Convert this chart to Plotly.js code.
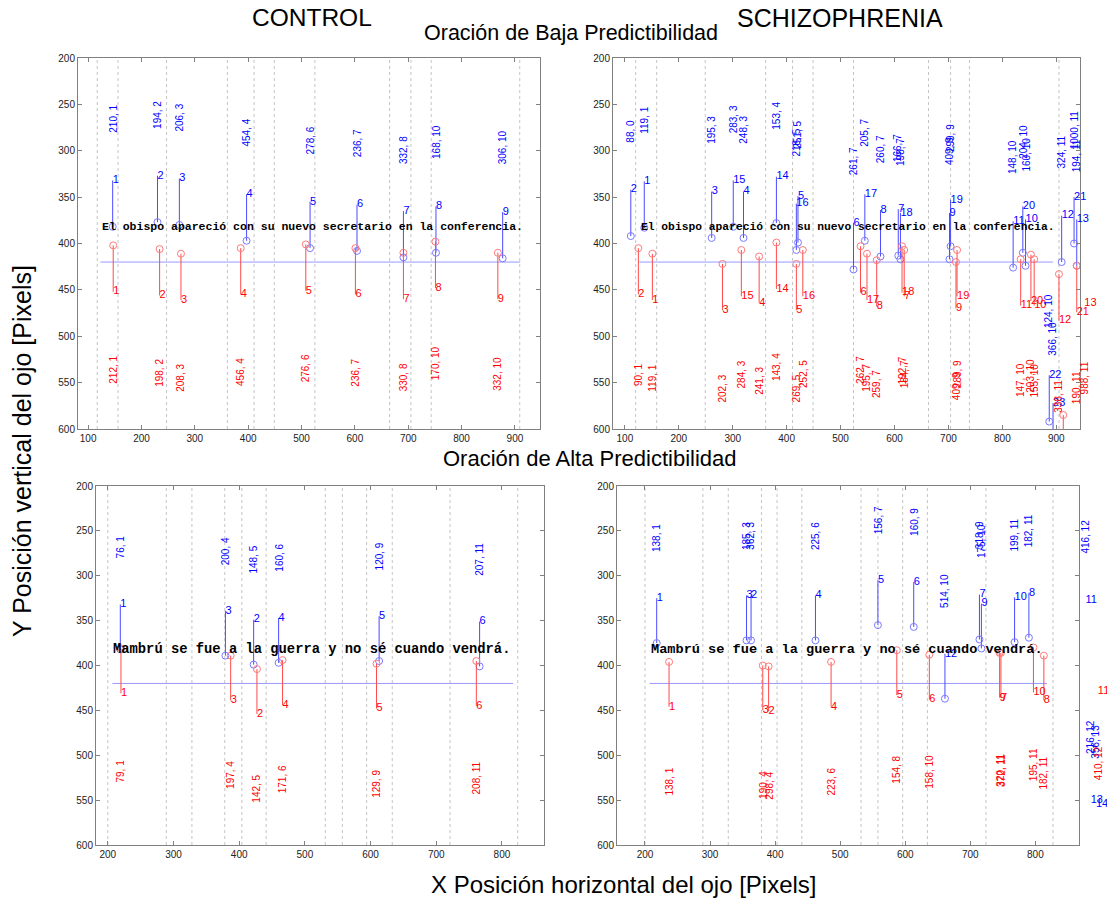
<!DOCTYPE html>
<html><head><meta charset="utf-8">
<script src="https://cdn.plot.ly/plotly-3.0.1.min.js"></script>
<style>html,body{margin:0;padding:0;background:#fff}</style>
</head><body><div id="chart" style="width:1107px;height:899px"></div>
<script>
// ---------------- DATA ----------------
const sentenceLow = "El obispo apareció con su nuevo secretario en la conferencia.";
const sentenceHigh = "Mambrú se fue a la guerra y no sé cuando vendrá.";
const lineY = 420, textY = 382;

// Top-left: CONTROL, low predictability
const TL_words = [117, 156, 247, 361, 411, 449, 525, 665, 705, 743, 909];
const TL_line = [123, 910];
const TL_textX = 125;
const TL_blue_n = [1, 2, 3, 4, 5, 6, 7, 8, 9];
const TL_blue_x = [146, 230, 271, 397, 516, 604, 691, 752, 877];
const TL_blue_y = [382, 377, 380, 397, 405, 408, 415, 410, 416];
const TL_blue_lab = ["210, 1","194, 2","206, 3","454, 4","278, 6","236, 7","332, 8","168, 10","306, 10"];
const TL_red_n = [1, 2, 3, 4, 5, 6, 7, 8, 9];
const TL_red_x = [147, 234, 274, 386, 508, 601, 691, 751, 868];
const TL_red_y = [402, 406, 411, 405, 401, 405, 410, 398, 410];
const TL_red_lab = ["212, 1","198, 2","208, 3","456, 4","276, 6","236, 7","330, 8","170, 10","332, 10"];

// Top-right: SCHIZOPHRENIA, low predictability
const TR_words = [120, 159, 249, 361, 411, 449, 524, 663, 704, 739, 905];
const TR_line = [127, 894];
const TR_textX = 128;
const TR_blue_n = [2, 1, 3, 15, 4, 14, 5, 16, 6, 17, 8, 7, 18, 19, 9, 11, 20, 10, 12, 21, 13, 22, 23];
const TR_blue_x = [111, 136, 261, 301, 320, 381, 421, 418, 524, 545, 574, 607, 611, 704, 702, 820, 838, 843, 910, 933, 938, 887, 894];
const TR_blue_y = [392, 383, 394, 382, 394, 378, 399, 407, 428, 397, 414, 413, 417, 403, 417, 426, 410, 424, 420, 400, 424, 592, 622];
const TR_blue_lab = ["88, 0","119, 1","195, 3","283, 3","248, 3","153, 4","251, 5","218, 5","261, 7","205, 7","260, 7","166, 7","198, 7","299, 9","409, 9","148, 10","204, 10","160, 10","324, 11","1000, 11","194, 11","124, 10","366, 10"];
const TR_red_n = [2, 1, 3, 15, 4, 14, 5, 16, 6, 17, 8, 18, 7, 19, 9, 11, 20, 10, 12, 21, 13, 22];
const TR_red_x = [125, 151, 281, 316, 349, 381, 418, 430, 537, 549, 567, 614, 618, 716, 714, 834, 853, 859, 905, 938, 952, 913];
const TR_red_y = [405, 411, 422, 407, 414, 399, 422, 407, 403, 411, 418, 403, 407, 407, 420, 417, 412, 417, 433, 424, 414, 585];
const TR_red_lab = ["90, 1","119, 1","202, 3","284, 3","241, 3","143, 4","269, 5","252, 5","262, 7","195, 7","259, 7","192, 7","184, 7","289, 9","409, 9","147, 10","203, 10","155, 10","338, 11","190, 11","988, 11",""];

// Bottom-left: CONTROL, high predictability
const BL_words = [200, 289, 328, 378, 404, 441, 531, 557, 594, 633, 721, 824];
const BL_line = [207, 817];
const BL_textX = 207;
const BL_blue_n = [1, 3, 2, 4, 5, 6];
const BL_blue_x = [219, 379, 422, 460, 613, 766];
const BL_blue_y = [382, 389, 399, 397, 395, 401];
const BL_blue_lab = ["76, 1","200, 4","148, 5","160, 6","120, 9","207, 11"];
const BL_red_n = [1, 3, 2, 4, 5, 6];
const BL_red_x = [220, 387, 427, 466, 609, 761];
const BL_red_y = [381, 389, 404, 394, 398, 395];
const BL_red_lab = ["79, 1","197, 4","142, 5","171, 6","129, 9","208, 11"];

// Bottom-right: SCHIZOPHRENIA, high predictability
const BR_words = [200, 289, 328, 379, 403, 441, 532, 558, 596, 634, 724, 827];
const BR_line = [207, 818];
const BR_textX = 207;
const BR_blue_n = [1, 3, 2, 4, 5, 6, 7, 9, 10, 8, 11, 12, 13, 14];
const BR_blue_x = [218, 356, 363, 462, 558, 613, 714, 717, 768, 790, 877, 661, 885, 893];
const BR_blue_y = [375, 372, 372, 372, 355, 357, 371, 381, 374, 369, 377, 437, 600, 605];
const BR_blue_lab = ["138, 1","185, 3","362, 3","225, 6","156, 7","160, 9","318, 9","175, 10","199, 11","182, 11","416, 12","514, 10","216, 12","356, 13"];
const BR_red_n = [1, 3, 2, 4, 5, 6, 9, 7, 10, 8, 11];
const BR_red_x = [237, 381, 390, 486, 587, 637, 745, 747, 797, 813, 896];
const BR_red_y = [396, 400, 401, 396, 383, 388, 386, 386, 380, 389, 379];
const BR_red_lab = ["138, 1","190, 4","298, 4","223, 6","154, 8","158, 10","320, 11","372, 11","195, 11","182, 11","410, 12"];

const xTicksTop = [100, 200, 300, 400, 500, 600, 700, 800, 900];
const xTicksBottom = [200, 300, 400, 500, 600, 700, 800];
const yTicks = [200, 250, 300, 350, 400, 450, 500, 550, 600];

// ---------------- LAYOUT / DRAWING ----------------
const W = 1107, H = 899;
const STEM = 50, LAB_UP = 100, LAB_DOWN = 150;
const BLUE = '#0000ff', RED = '#ff0000';

const panels = [
  {xa:'x',  ya:'y',  xo:'x5', px:[78,540],  py:[58,429],  range:[81,947],  ticks:xTicksTop,
   words:TL_words, line:TL_line, tx:TL_textX, sent:sentenceLow, fs:11.5,
   b:[TL_blue_x,TL_blue_y,TL_blue_n,TL_blue_lab], r:[TL_red_x,TL_red_y,TL_red_n,TL_red_lab]},
  {xa:'x2', ya:'y2', xo:'x6', px:[613,1080], py:[58,429],  range:[78,944],  ticks:xTicksTop,
   words:TR_words, line:TR_line, tx:TR_textX, sent:sentenceLow, fs:11.3,
   b:[TR_blue_x,TR_blue_y,TR_blue_n,TR_blue_lab], r:[TR_red_x,TR_red_y,TR_red_n,TR_red_lab]},
  {xa:'x3', ya:'y3', xo:'x7', px:[96,544],  py:[486,845], range:[182,864], ticks:xTicksBottom,
   words:BL_words, line:BL_line, tx:BL_textX, sent:sentenceHigh, fs:13.8,
   b:[BL_blue_x,BL_blue_y,BL_blue_n,BL_blue_lab], r:[BL_red_x,BL_red_y,BL_red_n,BL_red_lab]},
  {xa:'x4', ya:'y4', xo:'x8', px:[617,1079], py:[486,845], range:[157,867], ticks:xTicksBottom,
   words:BR_words, line:BR_line, tx:BR_textX, sent:sentenceHigh, fs:13.6,
   b:[BR_blue_x,BR_blue_y,BR_blue_n,BR_blue_lab], r:[BR_red_x,BR_red_y,BR_red_n,BR_red_lab]}
];

const traces = [], annotations = [], shapes = [];
const layout = {
  width: W, height: H, margin: {l:0, r:0, t:0, b:0},
  paper_bgcolor: '#fff', plot_bgcolor: 'rgba(0,0,0,0)', showlegend: false,
  font: {family: 'Liberation Sans, Arial, sans-serif', size: 10, color: '#222'}
};

const axisName = id => id.replace('x', 'xaxis').replace('y', 'yaxis');

panels.forEach(p => {
  const d0 = p.px[0] / W, d1 = p.px[1] / W;
  layout[axisName(p.xa)] = {
    domain: [d0, d1], range: p.range, anchor: p.ya, tickvals: p.ticks,
    ticks: 'inside', ticklen: 4, tickcolor: '#808080', showline: true, mirror: 'ticks',
    linecolor: '#808080', linewidth: 1, showgrid: false, zeroline: false,
    tickfont: {size: 10, color: '#222'}
  };
  layout[axisName(p.ya)] = {
    domain: [1 - p.py[1] / H, 1 - p.py[0] / H], range: [600, 200], anchor: p.xa, tickvals: yTicks,
    ticks: 'inside', ticklen: 4, tickcolor: '#808080', showline: true, mirror: 'ticks',
    linecolor: '#808080', linewidth: 1, showgrid: false, zeroline: false,
    tickfont: {size: 10, color: '#222'}
  };
  // invisible helper axis with the same scale, extended to the right edge (labels beyond the frame)
  const span = (p.range[1] - p.range[0]) * (1 - d0) / (d1 - d0);
  layout[axisName(p.xo)] = {domain: [d0, 1], range: [p.range[0], p.range[0] + span],
    anchor: p.ya, visible: false, fixedrange: true};

  // word-boundary dotted lines
  p.words.forEach(w => shapes.push({type:'line', layer:'below', xref:p.xa, yref:p.ya + ' domain',
    x0:w, x1:w, y0:0, y1:1, line:{color:'#c4c4c4', width:1, dash:'dot'}}));

  // sentence baseline
  traces.push({type:'scatter', mode:'lines', xaxis:p.xa, yaxis:p.ya, x:p.line, y:[lineY, lineY],
    line:{color:'#9a9aff', width:1}, hoverinfo:'skip'});

  // sentence text
  annotations.push({xref:p.xo, yref:p.ya, x:p.tx, y:textY, text:'<b>' + p.sent + '</b>', showarrow:false,
    xanchor:'left', yanchor:'middle', borderpad:0,
    font:{family:'Liberation Mono, Courier New, monospace', size:p.fs, color:'#000'}});

  [[p.b, BLUE, -1, '#4a4aff', '#7a7aff'], [p.r, RED, 1, '#ff4a4a', '#ff7a7a']].forEach(([d, col, dir, stemCol, circCol]) => {
    const [xs, ys, ns, labs] = d;
    const sx = [], sy = [], tx = [], ty = [];
    xs.forEach((x, i) => {
      sx.push(x, x, null); sy.push(ys[i], ys[i] + dir * STEM, null);
      tx.push(x); ty.push(ys[i] + dir * STEM);
      if (labs[i]) {
        annotations.push({xref:p.xo, yref:p.ya, x:x, y: dir < 0 ? ys[i] - LAB_UP : ys[i] + LAB_DOWN,
          text:labs[i], textangle:-90, showarrow:false, xanchor:'center', yanchor:'bottom',
          borderpad:0, font:{size:10, color:col}});
      }
    });
    traces.push({type:'scatter', mode:'lines', xaxis:p.xa, yaxis:p.ya, x:sx, y:sy,
      line:{color:stemCol, width:1}, hoverinfo:'skip'});
    traces.push({type:'scatter', mode:'markers', xaxis:p.xa, yaxis:p.ya, x:xs, y:ys,
      marker:{symbol:'circle-open', size:7, color:circCol, line:{width:1}}, hoverinfo:'skip'});
    // index labels drawn on the extended helper axis so the ones past the frame stay visible
    traces.push({type:'scatter', mode:'text', xaxis:p.xo, yaxis:p.ya, x:tx, y:ty, text:ns.map(String),
      textposition:'middle right', cliponaxis:false, marker:{size:2},
      textfont:{size:11, color:col}, hoverinfo:'skip'});
  });
});

// Figure titles
const TF = 'Liberation Sans, Arial, sans-serif';
const titles = [
  {t:'CONTROL', x:312, y:18, s:24.5},
  {t:'SCHIZOPHRENIA', x:840, y:18, s:25},
  {t:'Oración de Baja Predictibilidad', x:571, y:33, s:21.5},
  {t:'Oración de Alta Predictibilidad', x:590, y:458, s:22},
  {t:'X Posición horizontal del ojo [Pixels]', x:624, y:884, s:24},
  {t:'Y Posición vertical del ojo [Pixels]', x:22, y:451, s:25, a:-90}
];
titles.forEach(o => annotations.push({xref:'paper', yref:'paper', x:o.x / W, y:1 - o.y / H,
  text:o.t, showarrow:false, xanchor:'center', yanchor:'middle', textangle:o.a || 0,
  font:{family:TF, size:o.s, color:'#000'}}));

layout.annotations = annotations;
layout.shapes = shapes;

Plotly.newPlot('chart', traces, layout, {staticPlot:true, displayModeBar:false});
</script></body></html>
